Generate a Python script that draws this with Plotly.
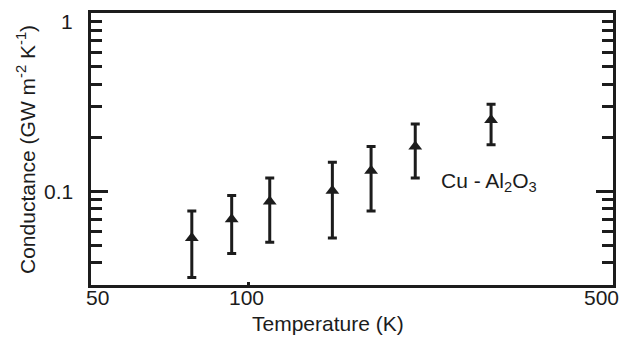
import math
import plotly.graph_objects as go

# ---- data ----
temperature = [78, 93, 110, 145, 172, 209, 292]          # K
conductance = [0.055, 0.070, 0.088, 0.101, 0.131, 0.179, 0.252]  # GW m-2 K-1
upper = [0.078, 0.095, 0.119, 0.146, 0.179, 0.239, 0.308]
lower = [0.033, 0.045, 0.052, 0.055, 0.078, 0.119, 0.183]

x_tick_vals = [50, 100, 500]
x_tick_text = ["50", "100", "500"]
y_tick_vals = [0.1, 1]
y_tick_text = ["0.1", "1"]
y_minor_vals = [0.03, 0.04, 0.05, 0.06, 0.07, 0.08, 0.09,
                0.2, 0.3, 0.4, 0.5, 0.6, 0.7, 0.8, 0.9]

series_label = "Cu - Al<sub>2</sub>O<sub>3</sub>"
x_title = "Temperature (K)"
y_title = "Conductance (GW m<sup>-2</sup> K<sup>-1</sup>)"

INK = "#1c1c1c"
FONT = "Liberation Sans, Arial, sans-serif"
FS = 21

# plot-area geometry in pixels
L, R, T, B = 91, 613, 13, 285
W, H = 633, 338
PW, PH = R - L, B - T


def px_x(px):
    return (px - L) / PW


def px_y(py):
    return (B - py) / PH


err_plus = [u - c for u, c in zip(upper, conductance)]
err_minus = [c - l for c, l in zip(conductance, lower)]

fig = go.Figure()
fig.add_trace(go.Scatter(
    x=temperature, y=conductance, mode="markers",
    marker=dict(symbol="triangle-up", size=12, color=INK, line=dict(width=0)),
    error_y=dict(type="data", symmetric=False, array=err_plus, arrayminus=err_minus,
                 color=INK, thickness=3, width=4.5),
    showlegend=False, hoverinfo="skip",
))

font = dict(size=FS, color=INK, family=FONT)
annotations = []
# x tick labels
x_shifts = [6, -2, -12]
for v, t, s in zip(x_tick_vals, x_tick_text, x_shifts):
    annotations.append(dict(x=math.log10(v), y=px_y(297.5), xref="x", yref="paper", text=t,
                            showarrow=False, xanchor="center", yanchor="middle",
                            xshift=s, font=font))
# y tick labels
y_shifts = [0, -8]
for v, t, s in zip(y_tick_vals, y_tick_text, y_shifts):
    annotations.append(dict(x=px_x(75), y=math.log10(v), xref="paper", yref="y", text=t,
                            showarrow=False, xanchor="right", yanchor="middle",
                            yshift=s, font=font))
# axis titles
annotations.append(dict(x=px_x(328), y=px_y(323), xref="paper", yref="paper", text=x_title,
                        showarrow=False, xanchor="center", yanchor="middle", font=font))
annotations.append(dict(x=px_x(26), y=px_y(150), xref="paper", yref="paper", text=y_title,
                        showarrow=False, xanchor="center", yanchor="middle", textangle=-90,
                        font=font))
# series label
annotations.append(dict(x=px_x(439), y=px_y(182), xref="paper", yref="paper",
                        text=series_label, showarrow=False, xanchor="left", yanchor="middle",
                        font=font))

fig.update_layout(
    width=W, height=H,
    margin=dict(l=L, r=W - R, t=T, b=H - B, autoexpand=False),
    paper_bgcolor="white", plot_bgcolor="white",
    font=font,
    annotations=annotations,
    xaxis=dict(
        type="log", range=[math.log10(50), math.log10(500)],
        tickvals=x_tick_vals, showticklabels=False,
        ticks="inside", ticklen=3, tickwidth=2.5, tickcolor=INK,
        showline=True, linewidth=2.5, linecolor=INK, mirror=True,
        showgrid=False, zeroline=False, automargin=False,
    ),
    yaxis=dict(
        type="log", range=[math.log10(0.03), 0],
        tickvals=y_tick_vals, showticklabels=False,
        ticks="inside", ticklen=17, tickwidth=2.5, tickcolor=INK,
        minor=dict(tickvals=y_minor_vals, ticks="inside", ticklen=11,
                   tickwidth=2.5, tickcolor=INK, showgrid=False),
        showline=True, linewidth=2.5, linecolor=INK, mirror="ticks",
        showgrid=False, zeroline=False, automargin=False,
    ),
)

fig.write_html(
    "out.html",
    config={"displayModeBar": False},
    post_script="document.body.style.margin='0';document.body.style.padding='0';"
                "document.body.style.overflow='hidden';",
)
